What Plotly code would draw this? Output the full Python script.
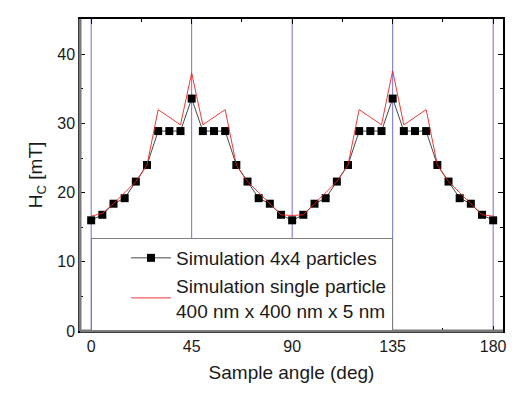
import plotly.graph_objects as go

# sample angle in degrees, one point every 5 deg
ANGLES = list(range(0, 181, 5))

# coercive field Hc [mT], simulation of 4x4 particles
HC_ARRAY = [
    16.0, 16.8, 18.4, 19.2, 21.6, 24.0, 28.9, 28.9, 28.9, 33.6,
    28.9, 28.9, 28.9, 24.0, 21.6, 19.2, 18.4, 16.8, 16.0,
    16.8, 18.4, 19.2, 21.6, 24.0, 28.9, 28.9, 28.9, 33.6,
    28.9, 28.9, 28.9, 24.0, 21.6, 19.2, 18.4, 16.8, 16.0,
]

# coercive field Hc [mT], simulation of a single particle
HC_SINGLE = [
    16.6, 17.0, 18.4, 20.0, 21.6, 24.0, 32.0, 30.9, 29.8, 37.3,
    29.8, 30.9, 32.0, 24.0, 21.6, 20.0, 18.4, 16.8, 16.7,
    16.8, 18.4, 20.0, 21.6, 24.0, 32.0, 30.9, 29.8, 37.6,
    29.8, 30.9, 32.0, 24.0, 21.6, 20.0, 18.4, 16.8, 16.6,
]

# easy/hard axis guide lines
GUIDE_ANGLES = [0, 45, 90, 135, 180]

FONT = "Liberation Sans, Arial, sans-serif"

fig = go.Figure()

fig.add_trace(go.Scatter(
    x=ANGLES, y=HC_ARRAY, mode="lines+markers",
    name="Simulation 4x4 particles",
    line=dict(color="#333333", width=0.9),
    marker=dict(symbol="square", size=8, color="black"),
))
fig.add_trace(go.Scatter(
    x=ANGLES, y=HC_SINGLE, mode="lines",
    name="Simulation single particle<br>400 nm x 400 nm x 5 nm",
    line=dict(color="#f02020", width=0.9),
))

for a in GUIDE_ANGLES:
    fig.add_vline(x=a, line=dict(color="#7070d8", width=1), layer="below")

# left and bottom frame lines are thick grey in the original
fig.add_shape(type="line", xref="paper", yref="paper", x0=0, x1=0, y0=0, y1=1,
              line=dict(color="#7a7a7a", width=3))
fig.add_shape(type="line", xref="paper", yref="paper", x0=0, x1=1, y0=0, y1=0,
              line=dict(color="#7a7a7a", width=3))

axis_common = dict(
    automargin=False,
    showgrid=False, zeroline=False,
    showline=True, linecolor="black", linewidth=1.5, mirror="allticks",
    ticks="inside", ticklen=5, tickwidth=1, tickcolor="black",
    tickfont=dict(family=FONT, size=16, color="#1a1a1a"),
)

fig.update_xaxes(
    range=[-5, 184.4], tickvals=GUIDE_ANGLES,
    minor=dict(dtick=22.5, tick0=0, ticks="inside", ticklen=3, tickcolor="black"),
    title=dict(text="Sample angle (deg)", font=dict(family=FONT, size=19, color="#1a1a1a"),
               standoff=12),
    **axis_common,
)
fig.update_yaxes(
    range=[0, 45.1], dtick=10, tick0=0,
    minor=dict(dtick=5, ticks="inside", ticklen=3, tickcolor="black"),
    title=dict(text="H<sub>C</sub> [mT]", font=dict(family=FONT, size=19, color="#1a1a1a"),
               standoff=10),
    **axis_common,
)

# the page body adds an 8px margin, so the figure is sized to fit the window
fig.update_layout(
    width=516, height=378,
    margin=dict(l=72, r=21, t=11, b=55),
    paper_bgcolor="white", plot_bgcolor="white",
    font=dict(family=FONT, color="#1a1a1a"),
    showlegend=True,
    legend=dict(
        x=0.026, y=0, xanchor="left", yanchor="bottom",
        bgcolor="white", bordercolor="#808080", borderwidth=1,
        font=dict(family=FONT, size=19, color="#1a1a1a"),
        indentation=34, tracegroupgap=0, itemwidth=40,
    ),
)

fig.write_html("out.html")
